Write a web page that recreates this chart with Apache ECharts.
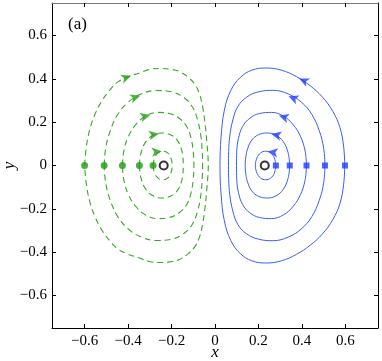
<!DOCTYPE html>
<html>
<head>
<meta charset="utf-8">
<script src="https://cdn.jsdelivr.net/npm/echarts@6/dist/echarts.min.js"></script>
<style>
  html, body { margin: 0; padding: 0; background: #fff; }
  #chart { width: 382px; height: 361px; }
</style>
</head>
<body>
<div id="chart"></div>
<script>
// tick values, both axes
const tickValues = [-0.6, -0.4, -0.2, 0, 0.2, 0.4, 0.6];

// green orbits (dashed), outer -> inner
const greenOrbit1 = [[-0.600,0],[-0.592,0.086],[-0.577,0.163],[-0.554,0.232],[-0.523,0.294],[-0.485,0.347],[-0.447,0.386],[-0.401,0.409],[-0.348,0.427],[-0.302,0.443],[-0.256,0.448],[-0.210,0.445],[-0.164,0.434],[-0.126,0.409],[-0.095,0.378],[-0.072,0.332],[-0.057,0.271],[-0.046,0.194],[-0.037,0.101],[-0.031,0],
  [-0.037,-0.101],[-0.046,-0.194],[-0.057,-0.271],[-0.072,-0.332],[-0.095,-0.378],[-0.126,-0.409],[-0.164,-0.434],[-0.210,-0.445],[-0.256,-0.448],[-0.302,-0.443],[-0.348,-0.427],[-0.401,-0.409],[-0.447,-0.386],[-0.485,-0.347],[-0.523,-0.294],[-0.554,-0.232],[-0.577,-0.163],[-0.592,-0.086],[-0.600,0]];
const greenOrbit2 = [[-0.510,0],[-0.503,0.080],[-0.482,0.160],[-0.448,0.235],[-0.400,0.292],[-0.340,0.330],[-0.270,0.346],[-0.200,0.340],[-0.145,0.315],[-0.105,0.272],[-0.080,0.210],[-0.065,0.135],[-0.059,0.065],[-0.057,0],
  [-0.059,-0.065],[-0.065,-0.135],[-0.080,-0.210],[-0.105,-0.272],[-0.145,-0.315],[-0.200,-0.340],[-0.270,-0.346],[-0.340,-0.330],[-0.400,-0.292],[-0.448,-0.235],[-0.482,-0.160],[-0.503,-0.080],[-0.510,0]];
const greenOrbit3 = [[-0.426,0],[-0.419,0.070],[-0.398,0.135],[-0.365,0.188],[-0.320,0.228],[-0.265,0.245],[-0.210,0.240],[-0.165,0.218],[-0.130,0.180],[-0.110,0.125],[-0.100,0.062],[-0.097,0],
  [-0.100,-0.062],[-0.110,-0.125],[-0.130,-0.180],[-0.165,-0.218],[-0.210,-0.240],[-0.265,-0.245],[-0.320,-0.228],[-0.365,-0.188],[-0.398,-0.135],[-0.419,-0.070],[-0.426,0]];
const greenOrbit4 = [[-0.348,0],[-0.340,0.060],[-0.318,0.110],[-0.285,0.140],[-0.245,0.150],[-0.205,0.142],[-0.175,0.118],[-0.156,0.080],[-0.148,0.040],[-0.146,0],
  [-0.148,-0.040],[-0.156,-0.080],[-0.175,-0.118],[-0.205,-0.142],[-0.245,-0.150],[-0.285,-0.140],[-0.318,-0.110],[-0.340,-0.060],[-0.348,0]];
const greenOrbit5 = [[-0.285,0],[-0.278,0.035],[-0.262,0.058],[-0.240,0.066],[-0.218,0.058],[-0.203,0.035],[-0.197,0],
  [-0.203,-0.035],[-0.218,-0.058],[-0.240,-0.066],[-0.262,-0.058],[-0.278,-0.035],[-0.285,0]];

// blue orbits (solid), outer -> inner
const blueOrbit1 = [[0.597,0],[0.592,0.086],[0.575,0.175],[0.542,0.250],[0.495,0.315],[0.438,0.368],[0.375,0.410],[0.305,0.440],[0.234,0.450],[0.170,0.440],[0.117,0.407],[0.073,0.347],[0.043,0.255],[0.028,0.132],[0.023,0],
  [0.028,-0.132],[0.043,-0.255],[0.073,-0.347],[0.117,-0.407],[0.170,-0.440],[0.234,-0.450],[0.305,-0.440],[0.375,-0.410],[0.438,-0.368],[0.495,-0.315],[0.542,-0.250],[0.575,-0.175],[0.592,-0.086],[0.597,0]];
const blueOrbit2 = [[0.506,0],[0.500,0.080],[0.480,0.160],[0.446,0.235],[0.398,0.292],[0.338,0.330],[0.268,0.347],[0.200,0.340],[0.145,0.315],[0.105,0.272],[0.082,0.210],[0.068,0.135],[0.063,0.065],[0.062,0],
  [0.063,-0.065],[0.068,-0.135],[0.082,-0.210],[0.105,-0.272],[0.145,-0.315],[0.200,-0.340],[0.268,-0.347],[0.338,-0.330],[0.398,-0.292],[0.446,-0.235],[0.480,-0.160],[0.500,-0.080],[0.506,0]];
const blueOrbit3 = [[0.421,0],[0.414,0.070],[0.393,0.135],[0.360,0.188],[0.315,0.228],[0.260,0.245],[0.205,0.240],[0.160,0.218],[0.127,0.180],[0.108,0.125],[0.100,0.062],[0.099,0],
  [0.100,-0.062],[0.108,-0.125],[0.127,-0.180],[0.160,-0.218],[0.205,-0.240],[0.260,-0.245],[0.315,-0.228],[0.360,-0.188],[0.393,-0.135],[0.414,-0.070],[0.421,0]];
const blueOrbit4 = [[0.344,0],[0.336,0.060],[0.314,0.110],[0.281,0.140],[0.240,0.150],[0.200,0.142],[0.170,0.118],[0.151,0.080],[0.142,0.040],[0.139,0],
  [0.142,-0.040],[0.151,-0.080],[0.170,-0.118],[0.200,-0.142],[0.240,-0.150],[0.281,-0.140],[0.314,-0.110],[0.336,-0.060],[0.344,0]];
const blueOrbit5 = [[0.280,0],[0.273,0.035],[0.256,0.058],[0.233,0.066],[0.210,0.058],[0.193,0.035],[0.186,0],
  [0.193,-0.035],[0.210,-0.058],[0.233,-0.066],[0.256,-0.058],[0.273,-0.035],[0.280,0]];

// starting points and fixed points
const greenStarts = [[-0.600,0],[-0.510,0],[-0.426,0],[-0.348,0],[-0.285,0]];
const blueStarts = [[0.598,0],[0.506,0],[0.421,0],[0.344,0],[0.280,0]];
const centers = [[-0.236,0],[0.229,0]];

// arrow heads: position + direction (degrees from +x)
const greenArrows = [[-0.386,0.414],[-0.344,0.322],[-0.298,0.233],[-0.258,0.147],[-0.245,0.066]];
const greenArrowDir = [20, 18, 15, 10, 6];
const blueArrows = [[0.387,0.402],[0.338,0.320],[0.294,0.231],[0.259,0.145],[0.243,0.065]];
const blueArrowDir = [155, 158, 162, 168, 172];

const GREEN = '#1f9e10';
const GREEN_LINE = '#33aa22';
const BLUE = '#1f3dff';
const BLUE_LINE = '#3a5cff';
const FONT = 'Liberation Serif';

let chart = echarts.init(document.getElementById('chart'));

function fmt(v) {
  if (Math.abs(v) < 1e-9) return '0';
  return v.toFixed(1).replace('-', '\u2212');
}

function xAxisCfg(pos, showLabel, lineColor) {
  return {
    type: 'value', position: pos, min: -0.75, max: 0.75,
    axisLine: { show: true, onZero: false, lineStyle: { color: lineColor, width: 1 } },
    axisTick: { show: true, inside: true, length: 4, customValues: tickValues, lineStyle: { color: '#000' } },
    axisLabel: { show: showLabel, customValues: tickValues, formatter: fmt, margin: 6,
      fontFamily: FONT, fontSize: 15, color: '#000' },
    splitLine: { show: false },
    name: showLabel ? 'x' : '', nameLocation: 'middle', nameGap: 16, nameMoveOverlap: false,
    nameTextStyle: { fontFamily: FONT, fontStyle: 'italic', fontSize: 17, color: '#000' }
  };
}
function yAxisCfg(pos, showLabel) {
  return {
    type: 'value', position: pos, min: -0.75, max: 0.75,
    axisLine: { show: true, onZero: false, lineStyle: { color: '#000', width: 1 } },
    axisTick: { show: true, inside: true, length: 4, customValues: tickValues, lineStyle: { color: '#000' } },
    axisLabel: { show: showLabel, customValues: tickValues, formatter: fmt, margin: 5,
      fontFamily: FONT, fontSize: 15, color: '#000' },
    splitLine: { show: false },
    name: showLabel ? 'y' : '', nameLocation: 'middle', nameGap: 34, nameMoveOverlap: false,
    nameTextStyle: { fontFamily: FONT, fontStyle: 'italic', fontSize: 17, color: '#000' }
  };
}

function orbit(data, color, dashed) {
  return {
    type: 'line', data: data, smooth: 0.4, symbol: 'none', silent: true,
    lineStyle: { color: color, width: dashed ? 1.1 : 1, type: dashed ? [6, 4] : 'solid' },
    z: 2
  };
}
function arrows(pts, dirs, color) {
  return {
    type: 'scatter', symbol: 'arrow', symbolSize: [7, 10], silent: true,
    data: pts.map((p, i) => ({ value: p, symbolRotate: dirs[i] - 90 })),
    itemStyle: { color: color }, z: 3
  };
}

chart.setOption({
  animation: false,
  grid: { left: 52, top: 3, right: 4, bottom: 33, containLabel: false, outerBoundsMode: 'none' },
  xAxis: [xAxisCfg('bottom', true, '#000'), xAxisCfg('top', false, '#777')],
  yAxis: [yAxisCfg('left', true), yAxisCfg('right', false)],
  graphic: [{
    type: 'text', left: 68, top: 16,
    style: { text: '(a)', fontFamily: FONT, fontSize: 17, fill: '#000' }
  }],
  series: [
    orbit(greenOrbit1, GREEN_LINE, true),
    orbit(greenOrbit2, GREEN_LINE, true),
    orbit(greenOrbit3, GREEN_LINE, true),
    orbit(greenOrbit4, GREEN_LINE, true),
    orbit(greenOrbit5, GREEN_LINE, true),
    orbit(blueOrbit1, BLUE_LINE, false),
    orbit(blueOrbit2, BLUE_LINE, false),
    orbit(blueOrbit3, BLUE_LINE, false),
    orbit(blueOrbit4, BLUE_LINE, false),
    orbit(blueOrbit5, BLUE_LINE, false),
    arrows(greenArrows, greenArrowDir, GREEN),
    arrows(blueArrows, blueArrowDir, BLUE),
    {
      type: 'scatter', data: greenStarts, symbol: 'circle', symbolSize: 7,
      itemStyle: { color: GREEN }, z: 4, silent: true
    },
    {
      type: 'scatter', data: blueStarts, symbol: 'rect', symbolSize: 6,
      itemStyle: { color: BLUE }, z: 4, silent: true
    },
    {
      type: 'scatter', data: centers, symbol: 'circle', symbolSize: 8,
      itemStyle: { color: '#fff', borderColor: '#000', borderWidth: 2 }, z: 5, silent: true
    }
  ]
});
</script>
</body>
</html>
